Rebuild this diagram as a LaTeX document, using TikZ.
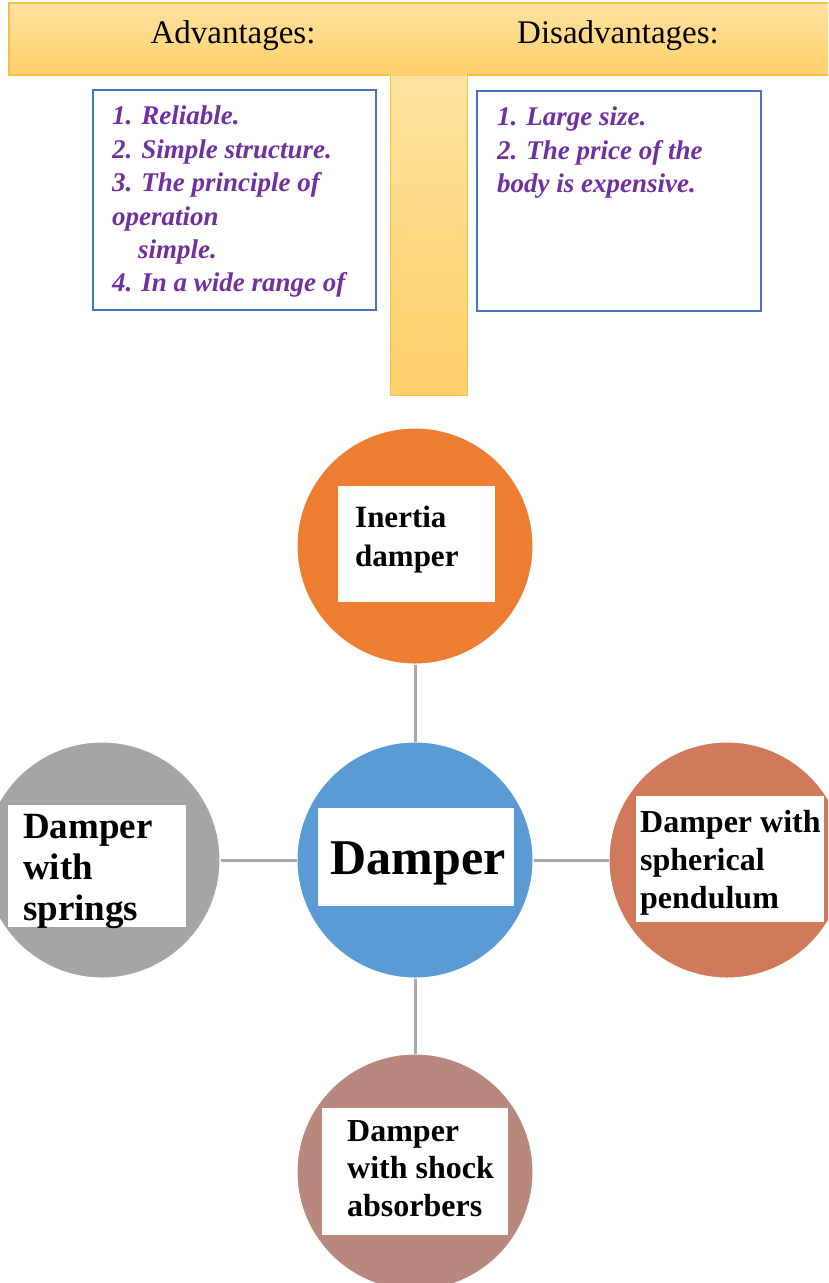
\documentclass[tikz,border=0pt]{standalone}
\usepackage{fontspec}
\setmainfont{Liberation Serif}
\definecolor{bannerTop}{HTML}{FFE2A0}
\definecolor{bannerBot}{HTML}{FFD06A}
\definecolor{bannerEdge}{HTML}{F5C040}
\definecolor{boxBlue}{HTML}{4472C4}
\definecolor{listPurple}{HTML}{7030A0}
\definecolor{cOrange}{HTML}{ED7D31}
\definecolor{cBlue}{HTML}{5B9BD5}
\definecolor{cGray}{HTML}{A5A5A5}
\definecolor{cRust}{HTML}{D17A5B}
\definecolor{cRose}{HTML}{B8877E}
\definecolor{lineGray}{HTML}{A8A8A8}
\tikzset{
  heading/.style={font=\fontsize{33}{38}\selectfont, anchor=base, inner sep=0pt},
  listbox/.style={draw=boxBlue, line width=2pt, fill=white},
  listtext/.style={font=\fontsize{27}{33.4}\selectfont\bfseries\itshape, text=listPurple, align=left, anchor=north west, inner sep=0pt},
  bubble/.style={circle, minimum size=236pt, inner sep=0pt, draw=white, line width=1pt},
  label box/.style={fill=white, draw=none},
  bubtext/.style={font=\bfseries, align=left, anchor=north west, inner sep=0pt},
  link/.style={draw=lineGray, line width=3pt}
}
\begin{document}
\begin{tikzpicture}[x=1pt,y=-1pt]
\useasboundingbox (0,0) rectangle (828,1283);
\clip (0,0) rectangle (828,1283);
% T-chart
\shade[top color=bannerTop, bottom color=bannerBot] (390,70) rectangle (467,395);
\draw[bannerEdge, line width=1pt] (390,75) -- (390,395) -- (467,395) -- (467,75);
\shade[top color=bannerTop, bottom color=bannerBot] (9,3) rectangle (830,75);
\draw[bannerEdge, line width=1.5pt] (830,3) -- (9,3) -- (9,75) -- (390,75);
\draw[bannerEdge, line width=1.5pt] (467,75) -- (830,75);
\node[heading] (adv) at (233,43) {Advantages:};
\node[heading] (dis) at (618,43) {Disadvantages:};
% lists
\draw[listbox] (93,90) rectangle (376,310);
\node[listtext] (advlist) at (112,106) {1. Reliable.\\2. Simple structure.\\3. The principle of\\operation\\\hspace*{26pt}simple.\\4. In a wide range of};
\draw[listbox] (477,91) rectangle (761,311);
\node[listtext] (dislist) at (497,107) {1. Large size.\\2. The price of the\\body is expensive.};
% bubbles
\node[bubble, fill=cOrange] (top) at (415,546) {};
\node[bubble, fill=cBlue] (center) at (415,860) {};
\node[bubble, fill=cGray] (left) at (102,860) {};
\node[bubble, fill=cRust] (right) at (727,860) {};
\node[bubble, fill=cRose] (bottom) at (415,1172) {};
\draw[link] (top.south) -- (center.north);
\draw[link] (left.east) -- (center.west);
\draw[link] (center.east) -- (right.west);
\draw[link] (center.south) -- (bottom.north);
% white label boxes
\fill[label box] (338,486) rectangle (495,602);
\fill[label box] (318,808) rectangle (514,906);
\fill[label box] (8,805) rectangle (186,927);
\fill[label box] (636,796) rectangle (824,922);
\fill[label box] (322,1108) rectangle (508,1235);
% labels
\node[bubtext, font=\fontsize{31}{39}\selectfont\bfseries] (tlabel) at (355,506) {Inertia\\damper};
\node[font=\fontsize{50}{56}\selectfont\bfseries, anchor=base, inner sep=0pt] (clabel) at (418,874) {Damper};
\node[bubtext, font=\fontsize{37}{41}\selectfont\bfseries] (llabel) at (23,814) {Damper\\with\\springs};
\node[bubtext, font=\fontsize{32}{38}\selectfont\bfseries] (rlabel) at (640,810) {Damper with\\spherical\\pendulum};
\node[bubtext, font=\fontsize{32}{37.5}\selectfont\bfseries] (blabel) at (347,1120) {Damper\\with shock\\absorbers};
\end{tikzpicture}
\end{document}
